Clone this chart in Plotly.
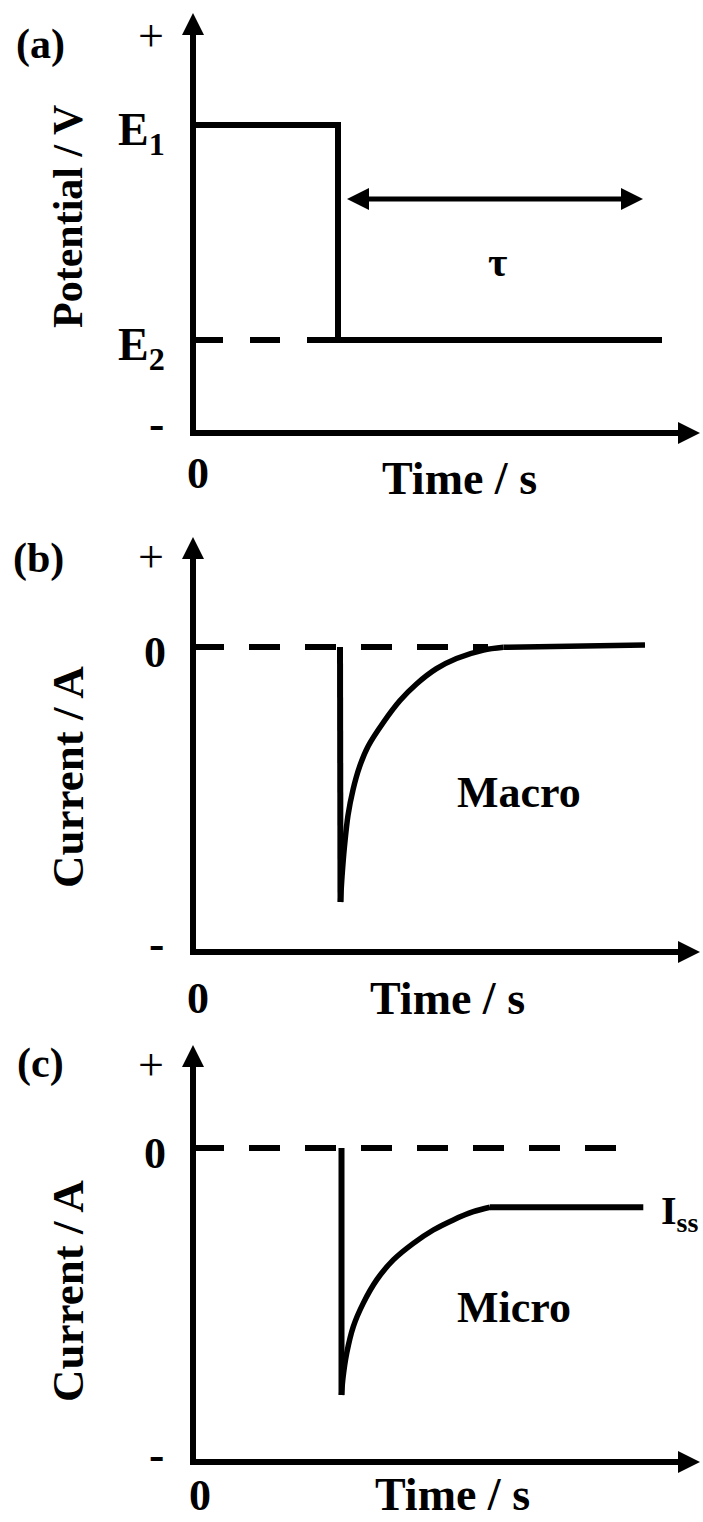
import plotly.graph_objects as go

W, H = 703, 1522

# ---------------- data (arbitrary units) ----------------
# (a) potential step
t_step = 2.9
t_end_a = 9.38
E1, E2 = 1.0, 0.0
pot_t = [0.0, t_step, t_step, t_end_a]
pot_E = [E1, E1, E2, E2]
ref_a_t = [0.0, t_step]
ref_a_E = [E2, E2]
tau_t = [3.08, 9.0]
tau_level = 0.656

# (b) macro-electrode transient (first point = top of the step, last = end of tail)
macro_t = [2.94, 2.95, 2.98, 3.03, 3.10, 3.20, 3.33, 3.50, 3.81, 4.14, 4.47, 4.87, 5.27, 5.81, 6.21, 9.04]
macro_i = [0.0, -1.0, -0.90, -0.78, -0.66, -0.56, -0.47, -0.39, -0.295, -0.21, -0.145, -0.085, -0.045, -0.012, -0.001, 0.008]
zero_b_t = [0.0, 5.9]

# (c) micro-electrode transient (first point = top of the step, last = end of plateau)
micro_t = [2.97, 2.97, 3.0, 3.074, 3.206, 3.406, 3.674, 4.006, 4.406, 4.806, 5.206, 5.606, 5.94, 9.006]
micro_i = [0.0, -1.0, -0.93, -0.831, -0.723, -0.628, -0.534, -0.453, -0.386, -0.332, -0.291, -0.258, -0.240, -0.240]
zero_c_t = [0.0, 8.64]

# axis extents (data units) for each panel: (y_min, y_tip), x_tip
axis_a = (-0.4326, 1.521)
axis_b = (-1.196, 0.431)
axis_c = (-1.271, 0.417)
x_tip = 10.14

# ---------------- geometry ----------------
PX_T = 50.0          # px per time unit
T0_PX = 193.0        # pixel of t = 0
x_range = [(0 - T0_PX) / PX_T, (W - T0_PX) / PX_T]

panels = {
    # name: (zero pixel, px per unit, domain top px, domain bottom px)
    "a": (340.0, 215.0, 0.0, 510.0),
    "b": (647.0, 255.0, 510.0, 1020.0),
    "c": (1148.0, 247.0, 1020.0, 1522.0),
}
axis_ids = {"a": ("x", "y"), "b": ("x2", "y2"), "c": ("x3", "y3")}

LINE = "black"
fig = go.Figure()


def add_line(p, xs, ys, width=6, dash=None, shape="linear"):
    xa, ya = axis_ids[p]
    line = dict(color=LINE, width=width, dash=dash, shape=shape)
    if shape == "spline":
        line["smoothing"] = 0.9
    fig.add_trace(go.Scatter(x=xs, y=ys, mode="lines", xaxis=xa, yaxis=ya,
                             line=line, hoverinfo="skip", showlegend=False))


def add_heads(p, xs, ys, symbols, size=22):
    xa, ya = axis_ids[p]
    fig.add_trace(go.Scatter(x=xs, y=ys, mode="markers", xaxis=xa, yaxis=ya,
                             marker=dict(symbol=symbols, size=size, color=LINE,
                                         line=dict(width=0)),
                             hoverinfo="skip", showlegend=False))


HEAD = 21.0  # px
for p, (ymin, ytip) in zip("abc", [axis_a, axis_b, axis_c]):
    ppu = panels[p][1]
    add_line(p, [0, 0, x_tip - HEAD / PX_T], [ytip - HEAD / ppu, ymin, ymin], width=6)
    add_heads(p, [0, x_tip], [ytip, ymin], ["arrow-up", "arrow-right"])

# (a)
add_line("a", ref_a_t, ref_a_E, width=6, dash="30px,27px")
add_line("a", pot_t, pot_E, width=6)
add_line("a", [tau_t[0] + 20 / PX_T, tau_t[1] - 20 / PX_T], [tau_level, tau_level], width=5)
add_heads("a", tau_t, [tau_level, tau_level], ["arrow-left", "arrow-right"], size=22)

# (b)
add_line("b", zero_b_t, [0, 0], width=6, dash="31px,25px")
add_line("b", macro_t[:2], macro_i[:2], width=6)
add_line("b", macro_t[1:-1], macro_i[1:-1], width=5.5, shape="spline")
add_line("b", macro_t[-2:], macro_i[-2:], width=5.5)

# (c)
add_line("c", zero_c_t, [0, 0], width=6, dash="31px,25px")
add_line("c", micro_t[:2], micro_i[:2], width=6)
add_line("c", micro_t[1:-1], micro_i[1:-1], width=5.5, shape="spline")
add_line("c", micro_t[-2:], micro_i[-2:], width=6)

# ---------------- layout ----------------
layout = dict(width=W, height=H, margin=dict(l=0, r=0, t=0, b=0),
              paper_bgcolor="white", plot_bgcolor="white", showlegend=False)
for p in "abc":
    xa, ya = axis_ids[p]
    zero_px, ppu, top_px, bot_px = panels[p]
    yr = [(zero_px - bot_px) / ppu, (zero_px - top_px) / ppu]
    dom = [1 - bot_px / H, 1 - top_px / H]
    xk = "xaxis" if xa == "x" else "xaxis" + xa[1:]
    yk = "yaxis" if ya == "y" else "yaxis" + ya[1:]
    layout[xk] = dict(range=x_range, domain=[0, 1], visible=False, anchor=ya)
    layout[yk] = dict(range=yr, domain=dom, visible=False, anchor=xa)
fig.update_layout(**layout)

FONT = "Liberation Serif"


def txt(text, px, py, size=46, weight="bold", xanchor="center", angle=0, yanchor="middle"):
    fig.add_annotation(text=text, x=px / W, y=1 - py / H, xref="paper", yref="paper",
                       showarrow=False, xanchor=xanchor, yanchor=yanchor,
                       textangle=angle,
                       font=dict(family=FONT, size=size, color="black", weight=weight))


# panel letters
txt("(a)", 40, 44, size=42)
txt("(b)", 38, 558, size=42)
txt("(c)", 40, 1063, size=42)

# y tick-like labels
for py in (36, 556, 1064):
    txt("+", 166, py, size=46, weight="normal", xanchor="right")
for py in (424, 943, 1454):
    txt("-", 166, py, size=46, xanchor="right")
txt("E<sub>1</sub>", 167, 133, size=46, xanchor="right")
txt("E<sub>2</sub>", 167, 348, size=46, xanchor="right")
txt("0", 168, 652, size=44, xanchor="right")
txt("0", 168, 1153, size=44, xanchor="right")

# x origin labels and titles
txt("0", 198, 473, size=44)
txt("0", 198, 998, size=44)
txt("0", 200, H, size=44, yanchor="bottom")
txt("Time / s", 459, 478)
txt("Time / s", 447, 998)
txt("Time / s", 452, H, yanchor="bottom")

txt("Potential / V", 68, 217, size=42, angle=-90)
txt("Current / A", 68, 777, size=45, angle=-90)
txt("Current / A", 68, 1291, size=45, angle=-90)

txt("τ", 497, 262, size=42)
txt("Macro", 519, 792, size=44)
txt("Micro", 514, 1307, size=44)
txt("I<sub>ss</sub>", 659, 1213, size=40, xanchor="left")

fig.write_html("out.html")
